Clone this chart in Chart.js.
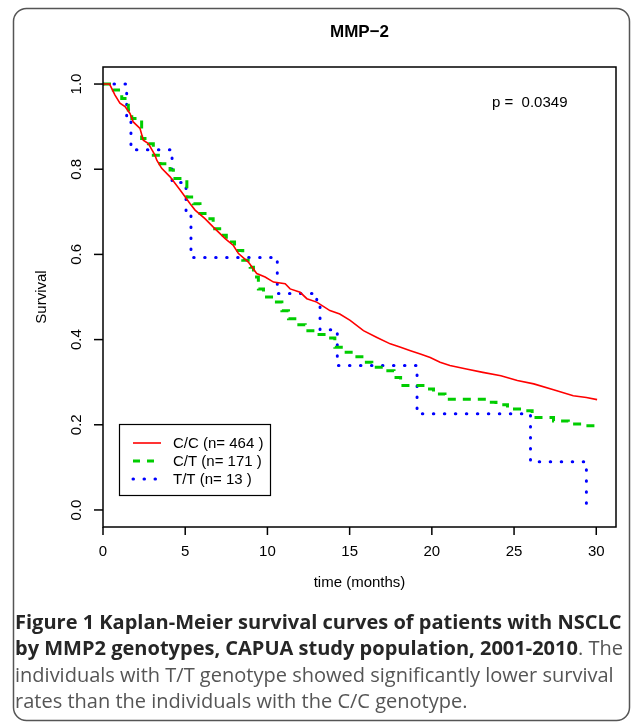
<!DOCTYPE html>
<html>
<head>
<meta charset="utf-8">
<script src="https://cdn.jsdelivr.net/npm/chart.js@4.4.1/dist/chart.umd.min.js"></script>
<style>
  html, body { margin: 0; padding: 0; background: #fff; }
  #wrap { position: relative; width: 633px; height: 723px; overflow: hidden; }
  #km { position: absolute; left: 0; top: 0; }
  #caption { position: absolute; left: 15px; top: 609px; font-family: "Open Sans", sans-serif;
             color: #555; line-height: 26.3px; white-space: nowrap; }
  #caption b { color: #262626; }
</style>
</head>
<body>
<div id="wrap">
  <canvas id="km" width="633" height="723"></canvas>
  <div id="caption"><b>Figure 1 Kaplan-Meier survival curves of patients with NSCLC</b><br><b>by MMP2 genotypes, CAPUA study population, 2001-2010</b>. The<br>individuals with T/T genotype showed significantly lower survival<br>rates than the individuals with the C/C genotype.</div>
</div>
<script>
// survival values (time in months)
var ccTime = [0, 0.4, 0.73, 1.03, 1.34, 1.64, 1.84, 2.25, 2.45, 2.76, 3.16, 3.27, 3.57, 4.08, 4.69, 5.3, 5.6, 6.2, 6.71, 7.43, 7.93, 8.24, 8.84, 9.35, 9.86, 10.37, 11.08, 11.38, 11.99, 12.4, 13.0, 13.8, 14.4, 15.03, 15.84, 16.66, 17.47, 18.1, 18.7, 19.3, 19.9, 20.5, 21.1, 22.1, 23.1, 24.2, 25.2, 26.2, 27.4, 28.6, 29.4, 30.05];
var ccSurv = [1.0, 1.0, 0.974, 0.955, 0.947, 0.931, 0.911, 0.896, 0.868, 0.860, 0.833, 0.821, 0.802, 0.782, 0.751, 0.719, 0.704, 0.684, 0.664, 0.637, 0.621, 0.602, 0.582, 0.555, 0.547, 0.535, 0.531, 0.519, 0.511, 0.496, 0.488, 0.468, 0.460, 0.445, 0.421, 0.405, 0.390, 0.382, 0.374, 0.366, 0.358, 0.347, 0.339, 0.331, 0.323, 0.315, 0.304, 0.296, 0.282, 0.268, 0.264, 0.259];

var ctTime = [0, 0.4, 0.63, 1.14, 1.54, 1.75, 2.35, 2.76, 3.06, 3.47, 4.08, 4.28, 5.1, 5.5, 5.9, 6.4, 6.7, 7.2, 7.5, 8.0, 8.5, 8.95, 9.15, 9.45, 9.76, 10.37, 10.88, 11.28, 11.79, 12.3, 12.9, 13.6, 14.1, 14.6, 15.2, 15.84, 16.35, 17.1, 17.7, 18.1, 19.3, 19.6, 20.1, 20.8, 23.3, 23.9, 24.6, 25.6, 26.1, 27.4, 28.3, 29.2, 30.05];
var ctSurv = [1.0, 1.0, 0.986, 0.966, 0.939, 0.919, 0.872, 0.860, 0.833, 0.813, 0.798, 0.778, 0.735, 0.719, 0.696, 0.684, 0.660, 0.645, 0.629, 0.609, 0.586, 0.570, 0.547, 0.519, 0.500, 0.488, 0.468, 0.449, 0.435, 0.421, 0.412, 0.404, 0.382, 0.370, 0.360, 0.347, 0.335, 0.327, 0.311, 0.292, 0.292, 0.284, 0.272, 0.260, 0.253, 0.247, 0.237, 0.233, 0.217, 0.209, 0.202, 0.198, 0.194];

var ttTime = [0, 1.44, 1.7, 4.2, 5.05, 5.35, 10.6, 13.0, 13.2, 14.25, 19.1, 26.0, 29.4];
var ttSurv = [1.0, 0.923, 0.846, 0.769, 0.692, 0.593, 0.508, 0.487, 0.423, 0.339, 0.226, 0.113, 0.015];

var groupLabels = ['C/C (n= 464 )', 'C/T (n= 171 )', 'T/T (n= 13 )'];
var xTicks = [0, 5, 10, 15, 20, 25, 30];
var yTicks = [0.0, 0.2, 0.4, 0.6, 0.8, 1.0];
var pValueText = 'p =  0.0349';
var chartTitle = 'MMP\u22122';

function toPoints(t, s) {
    var pts = [];
    for (var i = 0; i < t.length; i++) pts.push({ x: t[i], y: s[i] });
    return pts;
}

// caption size: fit the bold first line to the width it has in the figure
(function () {
    var mc = document.createElement('canvas').getContext('2d');
    mc.font = 'bold 100px "Open Sans"';
    var w = mc.measureText('Figure 1 Kaplan-Meier survival curves of patients with NSCLC').width;
    document.getElementById('caption').style.fontSize = (100 * 607 / w).toFixed(2) + 'px';
})();

var axisFont = '15px "Liberation Sans", Arial, sans-serif';

var rPlot = {
    id: 'rPlot',
    beforeDraw: function (chart) {
        var ctx = chart.ctx;
        ctx.save();
        ctx.fillStyle = '#fff';
        ctx.fillRect(0, 0, chart.width, chart.height);
        // card outline
        ctx.strokeStyle = '#555';
        ctx.lineWidth = 1.5;
        ctx.beginPath();
        ctx.roundRect(13.5, 8.5, 616, 712, 13);
        ctx.stroke();
        ctx.restore();
    },
    afterDraw: function (chart) {
        var ctx = chart.ctx, a = chart.chartArea;
        var xs = chart.scales.x, ys = chart.scales.y;
        ctx.save();
        ctx.strokeStyle = '#000';
        ctx.fillStyle = '#000';
        ctx.lineWidth = 1.5;
        ctx.strokeRect(a.left, a.top, a.right - a.left, a.bottom - a.top);

        ctx.font = axisFont;
        ctx.textAlign = 'center';
        ctx.textBaseline = 'middle';
        // y axis
        yTicks.forEach(function (v) {
            var py = ys.getPixelForValue(v);
            ctx.beginPath();
            ctx.moveTo(a.left - 9, py);
            ctx.lineTo(a.left, py);
            ctx.stroke();
            ctx.save();
            ctx.translate(a.left - 26, py);
            ctx.rotate(-Math.PI / 2);
            ctx.fillText(v.toFixed(1), 0, 0);
            ctx.restore();
        });
        // x axis
        xTicks.forEach(function (v) {
            var px = xs.getPixelForValue(v);
            ctx.beginPath();
            ctx.moveTo(px, a.bottom);
            ctx.lineTo(px, a.bottom + 8);
            ctx.stroke();
            ctx.fillText(String(v), px, a.bottom + 25);
        });
        var cx = (a.left + a.right) / 2;
        ctx.fillText('time (months)', cx, a.bottom + 56);
        ctx.save();
        ctx.translate(42, (a.top + a.bottom) / 2);
        ctx.rotate(-Math.PI / 2);
        ctx.fillText('Survival', 0, 0);
        ctx.restore();

        ctx.font = 'bold 17px "Liberation Sans", Arial, sans-serif';
        ctx.fillText(chartTitle, cx, 32);

        ctx.font = axisFont;
        ctx.textAlign = 'left';
        ctx.fillText(pValueText, 492, 103);

        // legend box
        ctx.lineWidth = 1.2;
        ctx.strokeStyle = '#000';
        ctx.strokeRect(119.5, 424.5, 151, 71);
        var rows = [443, 461, 479];
        chart.data.datasets.forEach(function (ds, i) {
            ctx.save();
            ctx.strokeStyle = ds.borderColor;
            ctx.lineWidth = ds.borderWidth;
            ctx.lineCap = ds.borderCapStyle || 'butt';
            ctx.setLineDash(ds.legendDash || []);
            ctx.beginPath();
            ctx.moveTo(133, rows[i]);
            ctx.lineTo(i === 1 ? 156 : 161, rows[i]);
            ctx.stroke();
            ctx.restore();
            ctx.fillStyle = '#000';
            ctx.fillText(ds.label, 173, rows[i] + 1);
        });
        ctx.restore();
    }
};

new Chart(document.getElementById('km'), {
    type: 'line',
    data: {
        datasets: [
            { label: groupLabels[0], data: toPoints(ccTime, ccSurv), borderColor: '#ff0000', borderWidth: 1.6,
              stepped: false, tension: 0, pointRadius: 0, fill: false },
            { label: groupLabels[1], data: toPoints(ctTime, ctSurv), borderColor: '#00cd00', borderWidth: 3,
              borderDash: [8, 7], legendDash: [7, 7], stepped: 'before', pointRadius: 0, fill: false },
            { label: groupLabels[2], data: toPoints(ttTime, ttSurv), borderColor: '#0000ff', borderWidth: 3,
              borderDash: [0.5, 10.5], legendDash: [0.5, 10.5], borderCapStyle: 'round', stepped: 'before',
              pointRadius: 0, fill: false }
        ]
    },
    options: {
        responsive: false,
        animation: false,
        layout: { padding: { left: 103, top: 67, right: 17, bottom: 196 } },
        scales: {
            x: { type: 'linear', min: 0, max: 31.2, display: false },
            y: { type: 'linear', min: -0.04, max: 1.04, display: false }
        },
        plugins: { legend: { display: false }, tooltip: { enabled: false } }
    },
    plugins: [rPlot]
});
</script>
</body>
</html>
